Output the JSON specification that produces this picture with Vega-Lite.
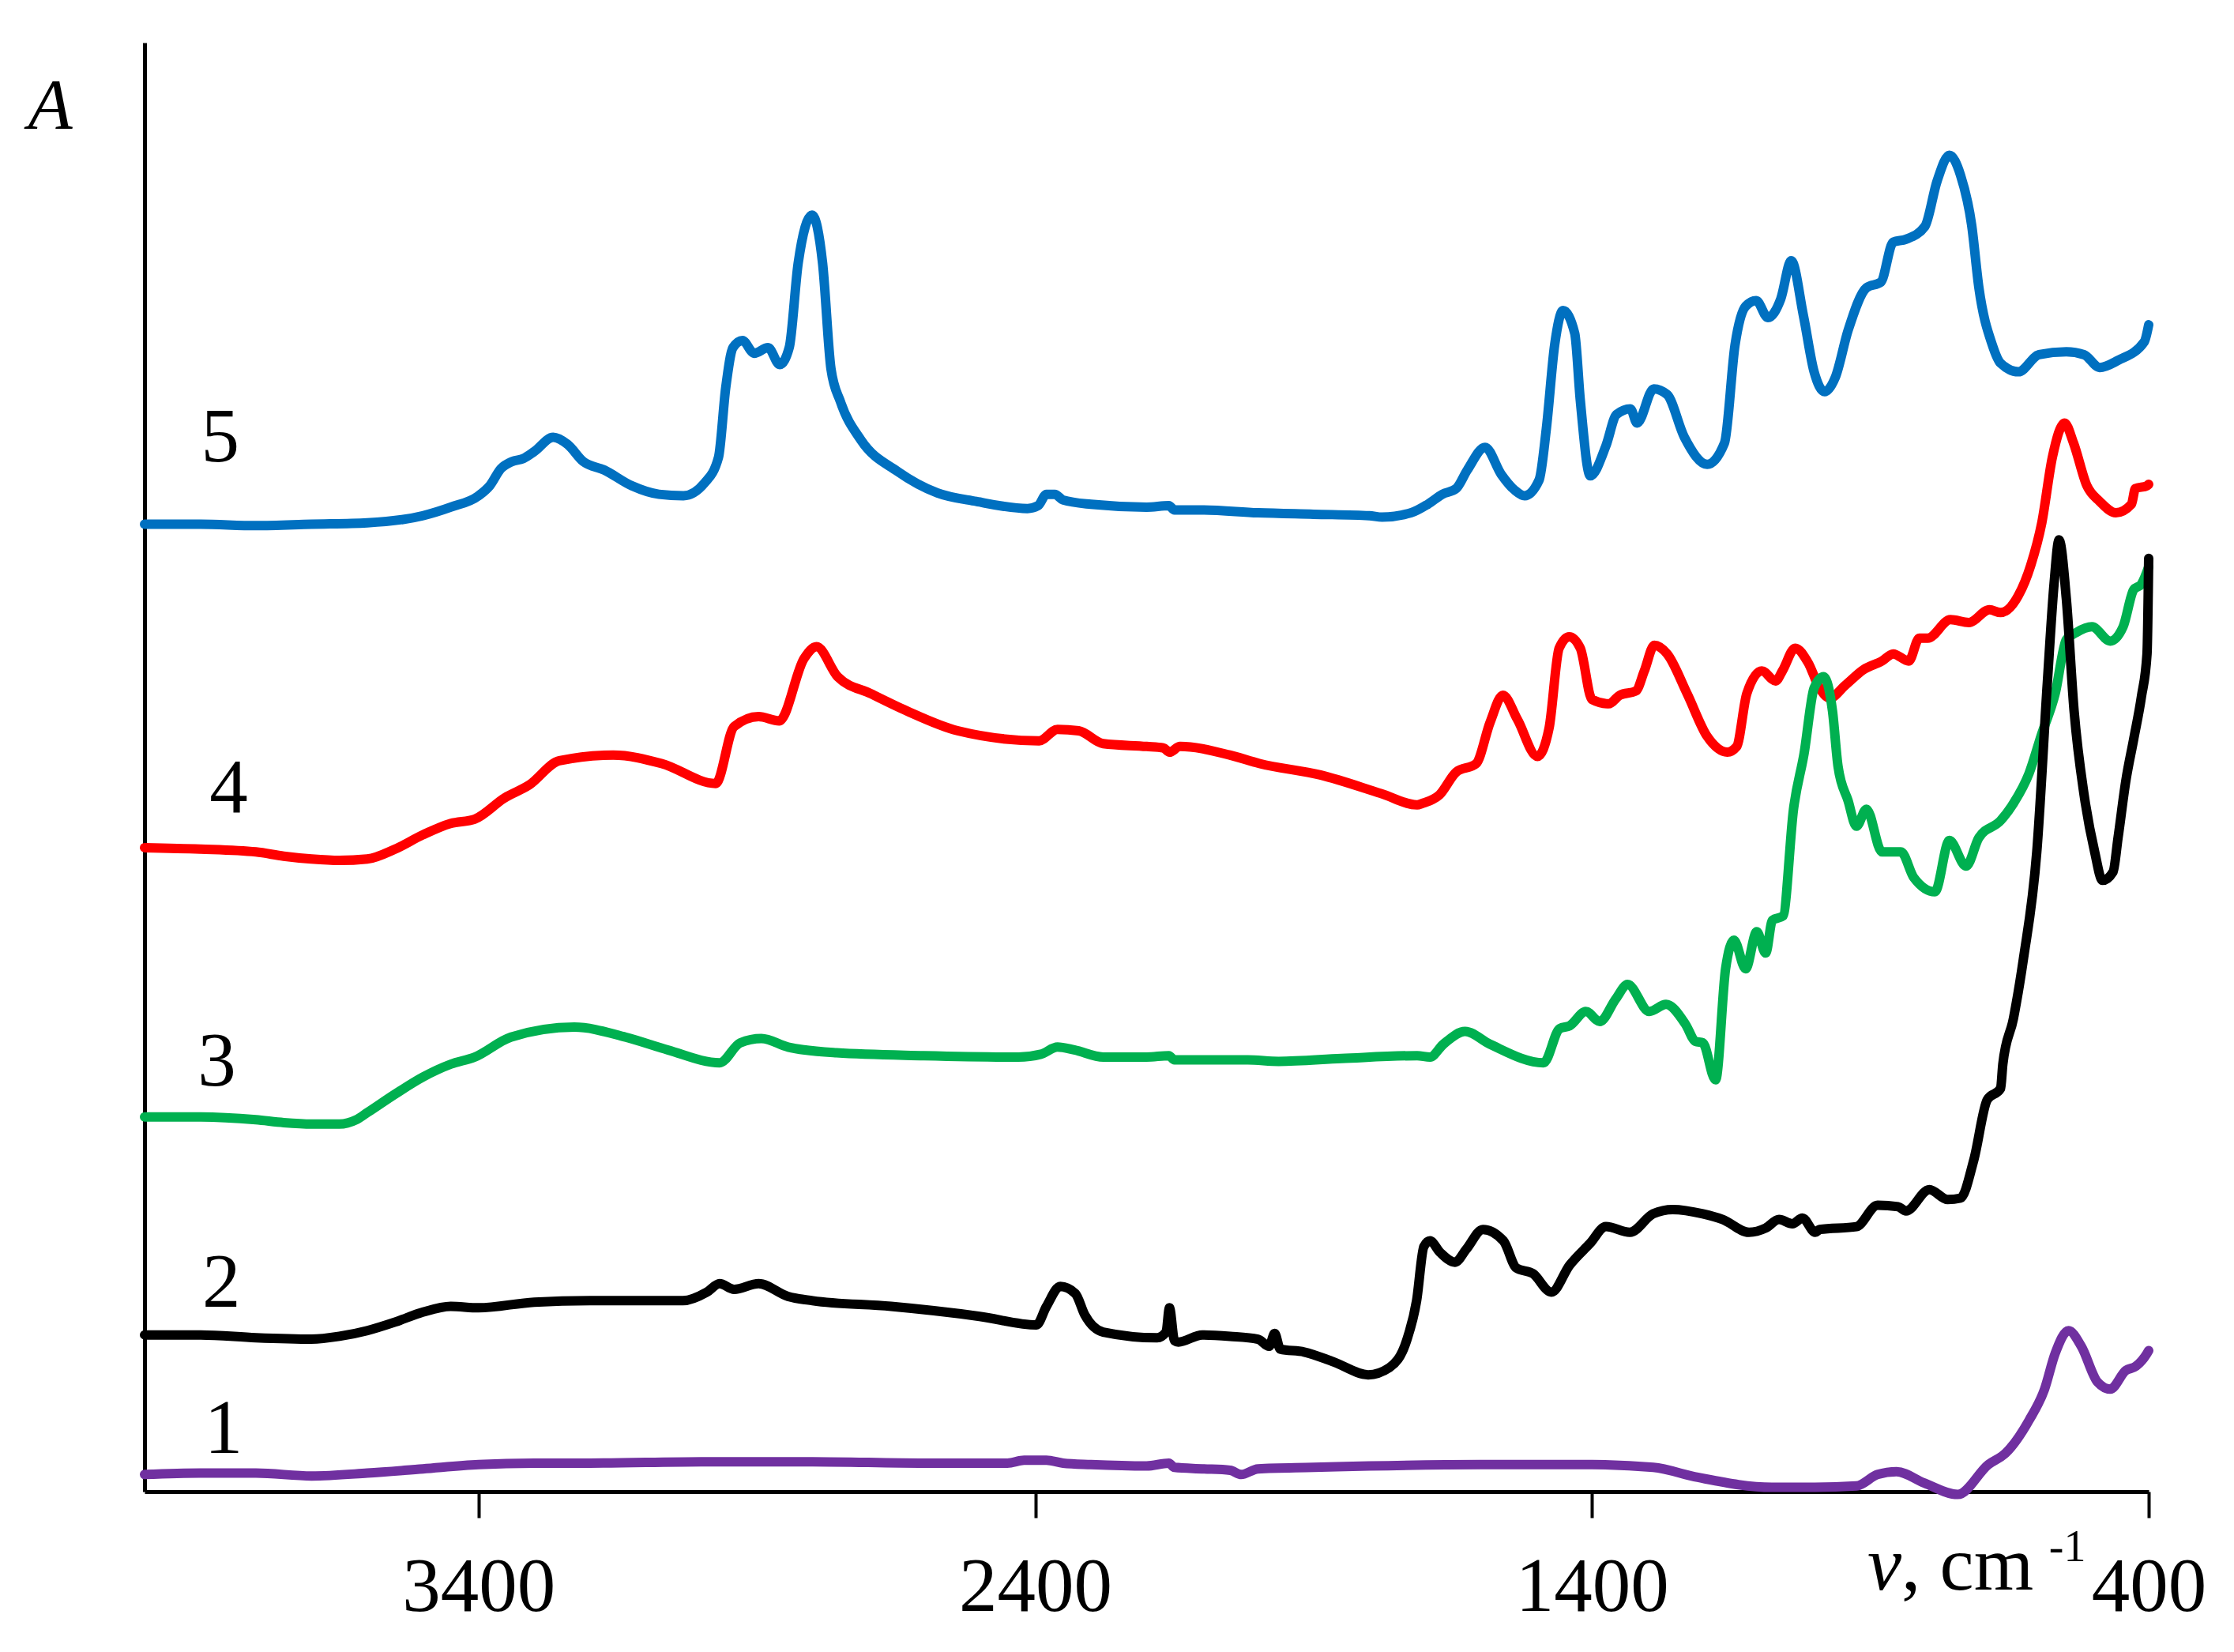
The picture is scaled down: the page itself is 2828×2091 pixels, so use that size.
{
"$schema": "https://vega.github.io/schema/vega-lite/v6.json",
"width": 2537, "height": 1834,
"autosize": {"type": "none"},
"padding": {"left": 183, "top": 54, "right": 108, "bottom": 203},
"background": "white",
"config": {"view": {"stroke": null}, "font": "Liberation Serif"},
"datasets": {
"spectra": [
{"s":"5","w":4000,"a":6.79},{"s":"5","w":3900,"a":6.79},{"s":"5","w":3800,"a":6.78},{"s":"5","w":3700,"a":6.79},{"s":"5","w":3600,"a":6.80},{"s":"5","w":3500,"a":6.85},{"s":"5","w":3450,"a":6.91},{"s":"5","w":3400,"a":6.99},{"s":"5","w":3380,"a":7.06},{"s":"5","w":3360,"a":7.18},{"s":"5","w":3340,"a":7.23},{"s":"5","w":3320,"a":7.25},{"s":"5","w":3300,"a":7.30},{"s":"5","w":3266,"a":7.40},{"s":"5","w":3240,"a":7.35},{"s":"5","w":3212,"a":7.23},{"s":"5","w":3174,"a":7.17},{"s":"5","w":3125,"a":7.06},{"s":"5","w":3076,"a":7.00},{"s":"5","w":3032,"a":6.99},{"s":"5","w":2994,"a":7.08},{"s":"5","w":2969,"a":7.26},{"s":"5","w":2956,"a":7.75},{"s":"5","w":2943,"a":8.03},{"s":"5","w":2926,"a":8.08},{"s":"5","w":2905,"a":7.99},{"s":"5","w":2880,"a":8.03},{"s":"5","w":2859,"a":7.91},{"s":"5","w":2842,"a":8.03},{"s":"5","w":2826,"a":8.62},{"s":"5","w":2801,"a":8.96},{"s":"5","w":2782,"a":8.62},{"s":"5","w":2767,"a":7.88},{"s":"5","w":2750,"a":7.65},{"s":"5","w":2713,"a":7.38},{"s":"5","w":2647,"a":7.16},{"s":"5","w":2576,"a":7.01},{"s":"5","w":2506,"a":6.95},{"s":"5","w":2414,"a":6.90},{"s":"5","w":2395,"a":6.92},{"s":"5","w":2380,"a":7.00},{"s":"5","w":2365,"a":7.00},{"s":"5","w":2350,"a":6.96},{"s":"5","w":2300,"a":6.93},{"s":"5","w":2200,"a":6.91},{"s":"5","w":2160,"a":6.92},{"s":"5","w":2150,"a":6.89},{"s":"5","w":2100,"a":6.89},{"s":"5","w":2000,"a":6.87},{"s":"5","w":1900,"a":6.86},{"s":"5","w":1800,"a":6.85},{"s":"5","w":1777,"a":6.84},{"s":"5","w":1725,"a":6.87},{"s":"5","w":1695,"a":6.93},{"s":"5","w":1669,"a":7.00},{"s":"5","w":1644,"a":7.04},{"s":"5","w":1624,"a":7.17},{"s":"5","w":1592,"a":7.33},{"s":"5","w":1563,"a":7.14},{"s":"5","w":1539,"a":7.03},{"s":"5","w":1521,"a":6.99},{"s":"5","w":1495,"a":7.10},{"s":"5","w":1482,"a":7.46},{"s":"5","w":1467,"a":8.05},{"s":"5","w":1452,"a":8.29},{"s":"5","w":1431,"a":8.13},{"s":"5","w":1421,"a":7.66},{"s":"5","w":1403,"a":7.13},{"s":"5","w":1375,"a":7.34},{"s":"5","w":1356,"a":7.56},{"s":"5","w":1331,"a":7.60},{"s":"5","w":1319,"a":7.50},{"s":"5","w":1289,"a":7.74},{"s":"5","w":1265,"a":7.70},{"s":"5","w":1234,"a":7.40},{"s":"5","w":1193,"a":7.21},{"s":"5","w":1162,"a":7.36},{"s":"5","w":1143,"a":8.05},{"s":"5","w":1124,"a":8.32},{"s":"5","w":1105,"a":8.36},{"s":"5","w":1084,"a":8.24},{"s":"5","w":1061,"a":8.37},{"s":"5","w":1042,"a":8.64},{"s":"5","w":1020,"a":8.25},{"s":"5","w":1001,"a":7.86},{"s":"5","w":982,"a":7.72},{"s":"5","w":963,"a":7.82},{"s":"5","w":940,"a":8.15},{"s":"5","w":907,"a":8.45},{"s":"5","w":881,"a":8.49},{"s":"5","w":859,"a":8.77},{"s":"5","w":836,"a":8.79},{"s":"5","w":802,"a":8.88},{"s":"5","w":780,"a":9.20},{"s":"5","w":758,"a":9.38},{"s":"5","w":738,"a":9.24},{"s":"5","w":718,"a":8.89},{"s":"5","w":705,"a":8.45},{"s":"5","w":681,"a":8.05},{"s":"5","w":666,"a":7.92},{"s":"5","w":634,"a":7.86},{"s":"5","w":597,"a":7.98},{"s":"5","w":548,"a":8.00},{"s":"5","w":516,"a":7.98},{"s":"5","w":488,"a":7.89},{"s":"5","w":455,"a":7.94},{"s":"5","w":408,"a":8.07},{"s":"5","w":400,"a":8.19},
{"s":"4","w":4000,"a":4.52},{"s":"4","w":3900,"a":4.51},{"s":"4","w":3800,"a":4.49},{"s":"4","w":3750,"a":4.46},{"s":"4","w":3700,"a":4.44},{"s":"4","w":3650,"a":4.43},{"s":"4","w":3600,"a":4.44},{"s":"4","w":3550,"a":4.51},{"s":"4","w":3500,"a":4.61},{"s":"4","w":3450,"a":4.69},{"s":"4","w":3407,"a":4.72},{"s":"4","w":3353,"a":4.87},{"s":"4","w":3309,"a":4.96},{"s":"4","w":3255,"a":5.13},{"s":"4","w":3158,"a":5.17},{"s":"4","w":3071,"a":5.11},{"s":"4","w":2974,"a":4.97},{"s":"4","w":2941,"a":5.37},{"s":"4","w":2897,"a":5.44},{"s":"4","w":2860,"a":5.41},{"s":"4","w":2815,"a":5.85},{"s":"4","w":2793,"a":5.93},{"s":"4","w":2755,"a":5.72},{"s":"4","w":2695,"a":5.60},{"s":"4","w":2631,"a":5.48},{"s":"4","w":2539,"a":5.34},{"s":"4","w":2393,"a":5.27},{"s":"4","w":2360,"a":5.35},{"s":"4","w":2322,"a":5.34},{"s":"4","w":2278,"a":5.25},{"s":"4","w":2200,"a":5.23},{"s":"4","w":2170,"a":5.22},{"s":"4","w":2159,"a":5.19},{"s":"4","w":2140,"a":5.23},{"s":"4","w":2051,"a":5.17},{"s":"4","w":1997,"a":5.11},{"s":"4","w":1888,"a":5.03},{"s":"4","w":1779,"a":4.90},{"s":"4","w":1714,"a":4.82},{"s":"4","w":1705,"a":4.83},{"s":"4","w":1674,"a":4.89},{"s":"4","w":1644,"a":5.05},{"s":"4","w":1608,"a":5.11},{"s":"4","w":1583,"a":5.40},{"s":"4","w":1560,"a":5.59},{"s":"4","w":1534,"a":5.42},{"s":"4","w":1498,"a":5.16},{"s":"4","w":1477,"a":5.36},{"s":"4","w":1459,"a":5.92},{"s":"4","w":1441,"a":6.00},{"s":"4","w":1421,"a":5.92},{"s":"4","w":1400,"a":5.56},{"s":"4","w":1370,"a":5.53},{"s":"4","w":1350,"a":5.59},{"s":"4","w":1321,"a":5.62},{"s":"4","w":1306,"a":5.76},{"s":"4","w":1288,"a":5.94},{"s":"4","w":1265,"a":5.88},{"s":"4","w":1229,"a":5.60},{"s":"4","w":1193,"a":5.30},{"s":"4","w":1157,"a":5.19},{"s":"4","w":1140,"a":5.23},{"s":"4","w":1122,"a":5.60},{"s":"4","w":1095,"a":5.76},{"s":"4","w":1070,"a":5.69},{"s":"4","w":1058,"a":5.76},{"s":"4","w":1035,"a":5.92},{"s":"4","w":1012,"a":5.82},{"s":"4","w":991,"a":5.64},{"s":"4","w":973,"a":5.57},{"s":"4","w":945,"a":5.66},{"s":"4","w":912,"a":5.77},{"s":"4","w":879,"a":5.83},{"s":"4","w":859,"a":5.88},{"s":"4","w":831,"a":5.83},{"s":"4","w":812,"a":5.99},{"s":"4","w":797,"a":5.99},{"s":"4","w":756,"a":6.12},{"s":"4","w":723,"a":6.10},{"s":"4","w":686,"a":6.19},{"s":"4","w":666,"a":6.17},{"s":"4","w":634,"a":6.29},{"s":"4","w":612,"a":6.50},{"s":"4","w":592,"a":6.80},{"s":"4","w":573,"a":7.26},{"s":"4","w":551,"a":7.50},{"s":"4","w":535,"a":7.36},{"s":"4","w":511,"a":7.06},{"s":"4","w":488,"a":6.95},{"s":"4","w":459,"a":6.87},{"s":"4","w":431,"a":6.93},{"s":"4","w":424,"a":7.04},{"s":"4","w":403,"a":7.06},{"s":"4","w":400,"a":7.07},
{"s":"3","w":4000,"a":2.63},{"s":"3","w":3900,"a":2.63},{"s":"3","w":3800,"a":2.61},{"s":"3","w":3750,"a":2.59},{"s":"3","w":3700,"a":2.58},{"s":"3","w":3650,"a":2.58},{"s":"3","w":3620,"a":2.61},{"s":"3","w":3600,"a":2.66},{"s":"3","w":3550,"a":2.79},{"s":"3","w":3500,"a":2.91},{"s":"3","w":3450,"a":3.00},{"s":"3","w":3407,"a":3.05},{"s":"3","w":3342,"a":3.19},{"s":"3","w":3228,"a":3.26},{"s":"3","w":3136,"a":3.19},{"s":"3","w":3060,"a":3.10},{"s":"3","w":2967,"a":3.01},{"s":"3","w":2930,"a":3.15},{"s":"3","w":2892,"a":3.18},{"s":"3","w":2844,"a":3.12},{"s":"3","w":2757,"a":3.08},{"s":"3","w":2600,"a":3.06},{"s":"3","w":2430,"a":3.05},{"s":"3","w":2390,"a":3.07},{"s":"3","w":2360,"a":3.12},{"s":"3","w":2330,"a":3.10},{"s":"3","w":2278,"a":3.05},{"s":"3","w":2200,"a":3.05},{"s":"3","w":2160,"a":3.06},{"s":"3","w":2150,"a":3.03},{"s":"3","w":2018,"a":3.03},{"s":"3","w":1963,"a":3.02},{"s":"3","w":1850,"a":3.04},{"s":"3","w":1714,"a":3.06},{"s":"3","w":1691,"a":3.05},{"s":"3","w":1667,"a":3.14},{"s":"3","w":1628,"a":3.23},{"s":"3","w":1583,"a":3.14},{"s":"3","w":1487,"a":3.01},{"s":"3","w":1458,"a":3.25},{"s":"3","w":1440,"a":3.27},{"s":"3","w":1411,"a":3.37},{"s":"3","w":1386,"a":3.30},{"s":"3","w":1357,"a":3.46},{"s":"3","w":1336,"a":3.56},{"s":"3","w":1297,"a":3.37},{"s":"3","w":1267,"a":3.42},{"s":"3","w":1232,"a":3.28},{"s":"3","w":1214,"a":3.16},{"s":"3","w":1201,"a":3.15},{"s":"3","w":1178,"a":2.89},{"s":"3","w":1160,"a":3.67},{"s":"3","w":1145,"a":3.87},{"s":"3","w":1124,"a":3.67},{"s":"3","w":1104,"a":3.93},{"s":"3","w":1088,"a":3.78},{"s":"3","w":1076,"a":4.01},{"s":"3","w":1057,"a":4.04},{"s":"3","w":1038,"a":4.79},{"s":"3","w":1019,"a":5.18},{"s":"3","w":1001,"a":5.64},{"s":"3","w":984,"a":5.72},{"s":"3","w":968,"a":5.48},{"s":"3","w":958,"a":5.09},{"s":"3","w":940,"a":4.85},{"s":"3","w":925,"a":4.67},{"s":"3","w":907,"a":4.79},{"s":"3","w":879,"a":4.49},{"s":"3","w":845,"a":4.49},{"s":"3","w":822,"a":4.31},{"s":"3","w":784,"a":4.21},{"s":"3","w":758,"a":4.57},{"s":"3","w":728,"a":4.39},{"s":"3","w":705,"a":4.59},{"s":"3","w":666,"a":4.71},{"s":"3","w":643,"a":4.83},{"s":"3","w":615,"a":5.04},{"s":"3","w":592,"a":5.32},{"s":"3","w":568,"a":5.60},{"s":"3","w":548,"a":5.98},{"s":"3","w":530,"a":6.03},{"s":"3","w":502,"a":6.07},{"s":"3","w":469,"a":5.97},{"s":"3","w":446,"a":6.07},{"s":"3","w":427,"a":6.33},{"s":"3","w":413,"a":6.37},{"s":"3","w":400,"a":6.49},
{"s":"2","w":4000,"a":1.10},{"s":"2","w":3900,"a":1.10},{"s":"2","w":3800,"a":1.08},{"s":"2","w":3700,"a":1.07},{"s":"2","w":3650,"a":1.09},{"s":"2","w":3600,"a":1.13},{"s":"2","w":3550,"a":1.19},{"s":"2","w":3500,"a":1.26},{"s":"2","w":3450,"a":1.30},{"s":"2","w":3400,"a":1.29},{"s":"2","w":3300,"a":1.33},{"s":"2","w":3200,"a":1.34},{"s":"2","w":3100,"a":1.34},{"s":"2","w":3033,"a":1.34},{"s":"2","w":2990,"a":1.40},{"s":"2","w":2967,"a":1.46},{"s":"2","w":2941,"a":1.42},{"s":"2","w":2897,"a":1.46},{"s":"2","w":2844,"a":1.37},{"s":"2","w":2800,"a":1.34},{"s":"2","w":2659,"a":1.30},{"s":"2","w":2500,"a":1.23},{"s":"2","w":2398,"a":1.17},{"s":"2","w":2380,"a":1.30},{"s":"2","w":2355,"a":1.44},{"s":"2","w":2328,"a":1.39},{"s":"2","w":2311,"a":1.24},{"s":"2","w":2278,"a":1.12},{"s":"2","w":2181,"a":1.08},{"s":"2","w":2165,"a":1.12},{"s":"2","w":2159,"a":1.29},{"s":"2","w":2150,"a":1.06},{"s":"2","w":2143,"a":1.05},{"s":"2","w":2100,"a":1.10},{"s":"2","w":2050,"a":1.09},{"s":"2","w":2000,"a":1.07},{"s":"2","w":1980,"a":1.02},{"s":"2","w":1970,"a":1.11},{"s":"2","w":1960,"a":1.00},{"s":"2","w":1917,"a":0.98},{"s":"2","w":1864,"a":0.91},{"s":"2","w":1802,"a":0.82},{"s":"2","w":1764,"a":0.87},{"s":"2","w":1733,"a":1.06},{"s":"2","w":1715,"a":1.34},{"s":"2","w":1702,"a":1.72},{"s":"2","w":1691,"a":1.76},{"s":"2","w":1673,"a":1.68},{"s":"2","w":1646,"a":1.61},{"s":"2","w":1626,"a":1.70},{"s":"2","w":1596,"a":1.84},{"s":"2","w":1559,"a":1.76},{"s":"2","w":1536,"a":1.57},{"s":"2","w":1506,"a":1.53},{"s":"2","w":1473,"a":1.40},{"s":"2","w":1440,"a":1.59},{"s":"2","w":1404,"a":1.74},{"s":"2","w":1375,"a":1.86},{"s":"2","w":1332,"a":1.82},{"s":"2","w":1290,"a":1.95},{"s":"2","w":1255,"a":1.98},{"s":"2","w":1201,"a":1.95},{"s":"2","w":1165,"a":1.91},{"s":"2","w":1118,"a":1.82},{"s":"2","w":1088,"a":1.85},{"s":"2","w":1064,"a":1.91},{"s":"2","w":1040,"a":1.88},{"s":"2","w":1022,"a":1.92},{"s":"2","w":999,"a":1.82},{"s":"2","w":991,"a":1.84},{"s":"2","w":925,"a":1.86},{"s":"2","w":887,"a":2.01},{"s":"2","w":850,"a":2.00},{"s":"2","w":836,"a":1.97},{"s":"2","w":794,"a":2.12},{"s":"2","w":761,"a":2.05},{"s":"2","w":738,"a":2.06},{"s":"2","w":714,"a":2.33},{"s":"2","w":690,"a":2.75},{"s":"2","w":666,"a":2.83},{"s":"2","w":662,"a":3.00},{"s":"2","w":643,"a":3.32},{"s":"2","w":625,"a":3.74},{"s":"2","w":601,"a":4.49},{"s":"2","w":582,"a":5.68},{"s":"2","w":570,"a":6.37},{"s":"2","w":561,"a":6.68},{"s":"2","w":548,"a":6.27},{"s":"2","w":534,"a":5.48},{"s":"2","w":516,"a":4.89},{"s":"2","w":497,"a":4.49},{"s":"2","w":483,"a":4.29},{"s":"2","w":464,"a":4.35},{"s":"2","w":455,"a":4.59},{"s":"2","w":441,"a":4.99},{"s":"2","w":427,"a":5.28},{"s":"2","w":413,"a":5.58},{"s":"2","w":403,"a":5.88},{"s":"2","w":400,"a":6.55},
{"s":"1","w":4000,"a":0.12},{"s":"1","w":3900,"a":0.13},{"s":"1","w":3800,"a":0.13},{"s":"1","w":3700,"a":0.11},{"s":"1","w":3600,"a":0.13},{"s":"1","w":3500,"a":0.16},{"s":"1","w":3400,"a":0.19},{"s":"1","w":3300,"a":0.20},{"s":"1","w":3200,"a":0.20},{"s":"1","w":3000,"a":0.21},{"s":"1","w":2800,"a":0.21},{"s":"1","w":2600,"a":0.20},{"s":"1","w":2450,"a":0.20},{"s":"1","w":2420,"a":0.22},{"s":"1","w":2380,"a":0.22},{"s":"1","w":2350,"a":0.20},{"s":"1","w":2300,"a":0.19},{"s":"1","w":2200,"a":0.18},{"s":"1","w":2160,"a":0.20},{"s":"1","w":2150,"a":0.17},{"s":"1","w":2100,"a":0.16},{"s":"1","w":2050,"a":0.15},{"s":"1","w":2030,"a":0.12},{"s":"1","w":2000,"a":0.16},{"s":"1","w":1900,"a":0.17},{"s":"1","w":1800,"a":0.18},{"s":"1","w":1600,"a":0.19},{"s":"1","w":1400,"a":0.19},{"s":"1","w":1290,"a":0.17},{"s":"1","w":1210,"a":0.10},{"s":"1","w":1077,"a":0.03},{"s":"1","w":1000,"a":0.03},{"s":"1","w":925,"a":0.04},{"s":"1","w":887,"a":0.12},{"s":"1","w":853,"a":0.14},{"s":"1","w":803,"a":0.06},{"s":"1","w":743,"a":-0.02},{"s":"1","w":688,"a":0.19},{"s":"1","w":657,"a":0.27},{"s":"1","w":615,"a":0.50},{"s":"1","w":587,"a":0.72},{"s":"1","w":568,"a":0.97},{"s":"1","w":544,"a":1.13},{"s":"1","w":521,"a":1.02},{"s":"1","w":492,"a":0.77},{"s":"1","w":469,"a":0.72},{"s":"1","w":441,"a":0.85},{"s":"1","w":423,"a":0.88},{"s":"1","w":403,"a":0.97},{"s":"1","w":400,"a":0.99}
],
"labels": [
{"t":"5","w":3864,"a":7.23},{"t":"4","w":3849,"a":4.77},{"t":"3","w":3870,"a":2.85},{"t":"2","w":3862,"a":1.30},{"t":"1","w":3858,"a":0.27}
],
"unitV": [{"t":"v","w":905,"a":-0.69}],
"unitCm": [{"t":", cm","w":844,"a":-0.69}],
"unitExp": [{"t":"-1","w":579,"a":-0.49}]
},
"layer": [
{
"data": {"name": "spectra"},
"mark": {"type": "line", "strokeWidth": 12, "strokeJoin": "round", "strokeCap": "round", "interpolate": "monotone", "clip": false},
"encoding": {
"x": {"field": "w", "type": "quantitative",
"scale": {"domain": [400, 4000], "reverse": true, "nice": false, "zero": false},
"axis": {"values": [3400, 2400, 1400, 400], "format": "d", "title": null, "grid": false,
"domainColor": "black", "domainWidth": 5, "tickColor": "black", "tickWidth": 4, "tickSize": 33,
"labelFont": "Liberation Serif", "labelFontSize": 97, "labelColor": "black", "labelPadding": 40,
"labelFlush": false, "labelOverlap": false, "labelLimit": 0}},
"y": {"field": "a", "type": "quantitative",
"scale": {"domain": [0, 10.17], "nice": false, "zero": false},
"axis": {"title": "A", "titleFont": "Liberation Serif", "titleFontStyle": "italic", "titleFontWeight": "normal",
"titleFontSize": 92, "titleAngle": 0, "titleX": -120, "titleY": 108, "titleAlign": "center",
"titleBaseline": "alphabetic", "titleColor": "black", "labels": false, "ticks": false, "grid": false,
"domainColor": "black", "domainWidth": 5}},
"color": {"field": "s", "type": "nominal",
"scale": {"domain": ["1", "2", "3", "4", "5"], "range": ["#7030A0", "#000000", "#00B050", "#FF0000", "#0070C0"]},
"legend": null}
}
},
{
"data": {"name": "labels"},
"mark": {"type": "text", "font": "Liberation Serif", "fontSize": 97, "align": "center", "baseline": "alphabetic", "color": "black"},
"encoding": {
"x": {"field": "w", "type": "quantitative"},
"y": {"field": "a", "type": "quantitative"},
"text": {"field": "t"}
}
},
{
"data": {"name": "unitV"},
"mark": {"type": "text", "font": "Liberation Serif", "fontSize": 97, "fontStyle": "italic", "align": "left", "baseline": "alphabetic", "color": "black"},
"encoding": {
"x": {"field": "w", "type": "quantitative"},
"y": {"field": "a", "type": "quantitative"},
"text": {"field": "t"}
}
},
{
"data": {"name": "unitCm"},
"mark": {"type": "text", "font": "Liberation Serif", "fontSize": 97, "align": "left", "baseline": "alphabetic", "color": "black"},
"encoding": {
"x": {"field": "w", "type": "quantitative"},
"y": {"field": "a", "type": "quantitative"},
"text": {"field": "t"}
}
},
{
"data": {"name": "unitExp"},
"mark": {"type": "text", "font": "Liberation Serif", "fontSize": 56, "align": "left", "baseline": "alphabetic", "color": "black"},
"encoding": {
"x": {"field": "w", "type": "quantitative"},
"y": {"field": "a", "type": "quantitative"},
"text": {"field": "t"}
}
}
]
}
